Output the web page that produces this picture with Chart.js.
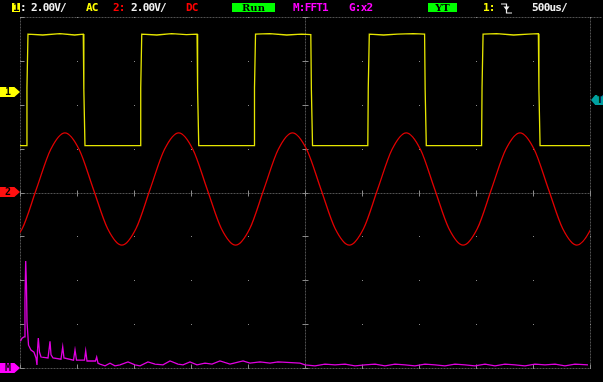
<!DOCTYPE html>
<html>
<head>
<meta charset="utf-8">
<script src="https://cdn.jsdelivr.net/npm/chart.js@4"></script>
<style>
  body { margin: 0; background: #000; }
  #wrap { position: relative; width: 603px; height: 382px; background: #000; overflow: hidden; }
  #scope { position: absolute; left: 0; top: 0; }
  .t { position: absolute; top: 2px; font: bold 11px "DejaVu Sans Mono", monospace; line-height: 11px; letter-spacing: -0.8px; white-space: pre; color: #f0f0f0; }
  .box { position: absolute; top: 3px; height: 9px; font: bold 10px "DejaVu Serif", serif; line-height: 9px; color: #000; text-align: center; background: #00ff00; }
  .tag { position: absolute; left: 0; width: 20px; height: 10px; font: bold 10px "DejaVu Sans Mono", monospace; line-height: 10px; color: #000; padding-left: 5px; box-sizing: border-box;
         clip-path: polygon(0 0, 72% 0, 100% 50%, 72% 100%, 0 100%); }
  .trig { position: absolute; left: 591px; top: 95px; width: 14px; height: 10px; background: #00a0a0; font: bold 10px "DejaVu Sans Mono", monospace; line-height: 10px; color: #000; padding-left: 6px; box-sizing: border-box;
          clip-path: polygon(0 50%, 30% 0, 100% 0, 100% 100%, 30% 100%); }
</style>
</head>
<body>
<div id="wrap">
  <canvas id="scope" width="603" height="382"></canvas>

  <div class="t" style="left:12px;top:3px;width:8px;height:9px;background:#ffff00;"></div>
  <div class="t" style="left:13px;color:#000;">1</div>
  <div class="t" style="left:20px;">:</div>
  <div class="t" style="left:31px;">2.00V/</div>
  <div class="t" style="left:86px;color:#ffff00;">AC</div>
  <div class="t" style="left:113px;color:#ff0000;">2:</div>
  <div class="t" style="left:131px;">2.00V/</div>
  <div class="t" style="left:186px;color:#ff0000;">DC</div>
  <div class="box" style="left:232px;width:43px;">Run</div>
  <div class="t" style="left:293px;color:#ff00ff;">M:FFT1</div>
  <div class="t" style="left:349px;color:#ff00ff;">G:x2</div>
  <div class="box" style="left:428px;width:29px;">YT</div>
  <div class="t" style="left:483px;color:#ffff00;">1:</div>
  <svg style="position:absolute;left:500px;top:2px;" width="13" height="12">
    <polyline points="1,2 6.5,2 6.5,11 12,11" fill="none" stroke="#f0f0f0" stroke-width="1.2"/>
    <polygon points="3.5,4.5 9.5,4.5 6.5,8.5" fill="#f0f0f0"/>
  </svg>
  <div class="t" style="left:532px;">500us/</div>

  <div class="tag" style="top:87px;background:#ffff00;">1</div>
  <div class="tag" style="top:187px;background:#ff1010;">2</div>
  <div class="tag" style="top:363px;background:#ff00ff;">M</div>
  <div class="trig">T</div>
</div>

<script>
// CH1 square wave, time in ms, level in divisions from screen centre
const ch1Time = [0,
  0.057, 0.061, 0.070, 0.20, 0.35, 0.48, 0.555, 0.560, 0.570,
  1.055, 1.059, 1.068, 1.20, 1.33, 1.46, 1.553, 1.558, 1.568,
  2.053, 2.057, 2.066, 2.19, 2.34, 2.47, 2.551, 2.556, 2.566,
  3.051, 3.055, 3.064, 3.19, 3.31, 3.45, 3.549, 3.554, 3.564,
  4.049, 4.053, 4.062, 4.18, 4.33, 4.46, 4.547, 4.552, 4.562,
  5];
const ch1Level = [1.07,
  1.07, 2.38, 3.61, 3.59, 3.62, 3.59, 3.61, 2.34, 1.07,
  1.07, 2.38, 3.61, 3.59, 3.62, 3.60, 3.61, 2.34, 1.07,
  1.07, 2.38, 3.61, 3.62, 3.59, 3.61, 3.60, 2.34, 1.07,
  1.07, 2.38, 3.61, 3.59, 3.61, 3.62, 3.61, 2.34, 1.07,
  1.07, 2.38, 3.61, 3.62, 3.59, 3.61, 3.62, 2.34, 1.07,
  1.07];

// CH2 sine, read every 1/8 period
const ch2Time = [-0.105, 0.020, 0.144, 0.269, 0.394, 0.519, 0.643, 0.768,
  0.893, 1.018, 1.142, 1.267, 1.392, 1.517, 1.641, 1.766,
  1.891, 2.016, 2.140, 2.265, 2.390, 2.515, 2.639, 2.764,
  2.889, 3.014, 3.138, 3.263, 3.388, 3.513, 3.637, 3.762,
  3.887, 4.012, 4.136, 4.261, 4.386, 4.511, 4.635, 4.760,
  4.885, 5.010, 5.134];
const ch2Level = [-1.20, -0.82, 0.08, 0.98, 1.36, 0.98, 0.08, -0.82,
  -1.20, -0.82, 0.08, 0.98, 1.36, 0.98, 0.08, -0.82,
  -1.20, -0.82, 0.08, 0.98, 1.36, 0.98, 0.08, -0.82,
  -1.20, -0.82, 0.08, 0.98, 1.36, 0.98, 0.08, -0.82,
  -1.20, -0.82, 0.08, 0.98, 1.36, 0.98, 0.08, -0.82,
  -1.20, -0.82, 0.08];

// Math FFT trace, frequency in kHz
const fftFreq = [0.08, 0.33, 0.67, 0.83, 0.95, 1.08, 1.17, 1.42, 1.83, 2.33, 2.67, 2.83, 2.92,
  3.05, 3.25, 3.5, 4.67, 4.88, 5.0, 5.17, 5.5, 6.83, 7.12, 7.33, 8.92, 9.17, 9.42,
  10.75, 10.95, 11.17, 12.58, 12.78, 13.0, 13.33, 14.17, 15.0, 15.83, 16.67, 18.0,
  19.17, 20.0, 21.33, 22.5, 23.83, 25.0, 26.33, 27.17, 28.33, 29.5, 30.83, 32.0,
  33.33, 35.0, 37.17, 38.33, 40.0, 41.67, 43.0, 46.67, 47.5, 49.17, 50.83, 52.5,
  54.17, 55.83, 57.5, 59.17, 60.83, 62.5, 64.17, 65.83, 67.5, 69.17, 70.83, 72.5,
  74.17, 75.83, 77.5, 79.17, 80.83, 82.5, 84.17, 85.83, 87.5, 89.17, 90.83, 92.5, 94.67];
const fftLevel = [-3.39, -3.32, -3.29, -2.45, -1.56, -2.15, -2.95, -3.48, -3.59, -3.64, -3.77, -3.93, -3.59,
  -3.32, -3.64, -3.75, -3.77, -3.54, -3.39, -3.70, -3.77, -3.80, -3.52, -3.77, -3.82, -3.59, -3.82,
  -3.82, -3.61, -3.84, -3.84, -3.75, -3.89, -3.91, -3.95, -3.89, -3.95, -3.93, -3.86,
  -3.93, -3.95, -3.86, -3.91, -3.93, -3.84, -3.91, -3.93, -3.86, -3.93, -3.89, -3.91,
  -3.84, -3.91, -3.84, -3.89, -3.86, -3.89, -3.86, -3.89, -3.93, -3.95, -3.91, -3.93,
  -3.91, -3.95, -3.93, -3.91, -3.95, -3.91, -3.93, -3.95, -3.91, -3.93, -3.95, -3.91,
  -3.93, -3.95, -3.91, -3.95, -3.91, -3.93, -3.95, -3.91, -3.93, -3.91, -3.95, -3.91, -3.93];

// graticule: 10 x 8 divisions
const timeTicks = [0, 0.5, 1, 1.5, 2, 2.5, 3, 3.5, 4, 4.5, 5];
const divTicks = [-4, -3, -2, -1, 0, 1, 2, 3, 4];

function points(xs, ys) {
  return xs.map((x, i) => ({ x: x, y: ys[i] }));
}

// draws the dotted scope graticule behind the traces
const graticule = {
  id: 'graticule',
  beforeDatasetsDraw(chart) {
    const ctx = chart.ctx;
    const xs = chart.scales.x, ys = chart.scales.y;
    const px = timeTicks.map(t => Math.round(xs.getPixelForValue(t)) + 0.5);
    const py = divTicks.map(d => Math.round(ys.getPixelForValue(d)) + 0.5);
    const left = px[0], right = px[px.length - 1], top = py[py.length - 1], bottom = py[0];
    const cx = px[5], cy = py[4];

    ctx.save();
    ctx.lineWidth = 1;
    ctx.strokeStyle = '#505050';
    ctx.setLineDash([2, 1]);
    ctx.beginPath();
    ctx.moveTo(left, top); ctx.lineTo(right + 12, top);
    ctx.moveTo(left, bottom); ctx.lineTo(right, bottom);
    ctx.moveTo(left, top); ctx.lineTo(left, bottom);
    ctx.moveTo(right, top); ctx.lineTo(right, bottom);
    ctx.moveTo(left, cy); ctx.lineTo(right, cy);
    ctx.moveTo(cx, top); ctx.lineTo(cx, bottom);
    ctx.stroke();
    ctx.setLineDash([]);

    // major ticks on centre lines and borders
    ctx.strokeStyle = '#8a8a8a';
    ctx.beginPath();
    px.forEach(x => {
      ctx.moveTo(x, cy - 3); ctx.lineTo(x, cy + 3);
      ctx.moveTo(x, bottom - 4); ctx.lineTo(x, bottom);
    });
    py.forEach(y => {
      ctx.moveTo(cx - 3, y); ctx.lineTo(cx + 3, y);
      ctx.moveTo(left, y); ctx.lineTo(left + 4, y);
    });
    ctx.stroke();

    // intersection dots
    ctx.fillStyle = '#8a8a8a';
    px.forEach(x => py.forEach(y => ctx.fillRect(x - 0.5, y - 0.5, 1, 1)));
    ctx.restore();
  }
};

new Chart(document.getElementById('scope').getContext('2d'), {
  type: 'line',
  data: {
    datasets: [
      {
        label: 'CH1',
        data: points(ch1Time, ch1Level),
        borderColor: '#e6e600',
        borderWidth: 1.3,
        pointRadius: 0,
        tension: 0,
        xAxisID: 'x'
      },
      {
        label: 'CH2',
        data: points(ch2Time, ch2Level),
        borderColor: '#e00000',
        borderWidth: 1.3,
        pointRadius: 0,
        cubicInterpolationMode: 'monotone',
        xAxisID: 'x'
      },
      {
        label: 'FFT1',
        data: points(fftFreq, fftLevel),
        borderColor: '#e000e0',
        borderWidth: 1.3,
        pointRadius: 0,
        tension: 0,
        xAxisID: 'xf'
      }
    ]
  },
  options: {
    responsive: false,
    animation: false,
    layout: { padding: { left: 20, top: 17, right: 13, bottom: 14 } },
    plugins: { legend: { display: false }, tooltip: { enabled: false } },
    scales: {
      x: { type: 'linear', min: 0, max: 5, display: false },
      xf: { type: 'linear', min: 0, max: 95, display: false },
      y: { type: 'linear', min: -4, max: 4, display: false }
    }
  },
  plugins: [graticule]
});
</script>
</body>
</html>
